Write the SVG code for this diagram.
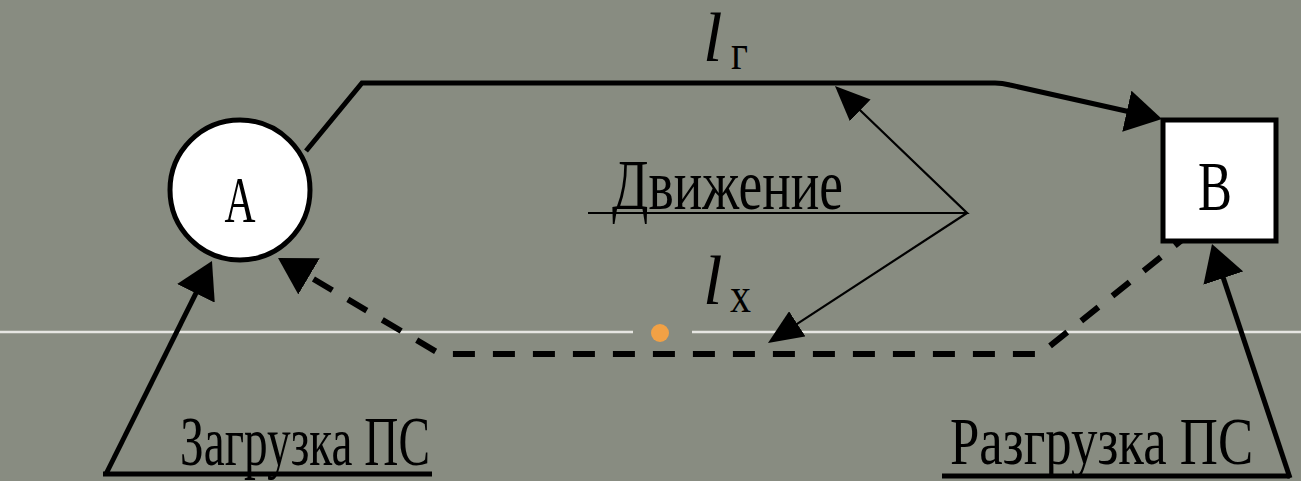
<svg xmlns="http://www.w3.org/2000/svg" width="1301" height="481" viewBox="0 0 1301 481">
<defs>
<style>
.bg{fill:#888c81}
.thick{fill:none;stroke:#000;stroke-width:5;stroke-linejoin:miter}
.dash{fill:none;stroke:#000;stroke-width:6;stroke-dasharray:22 18}
.thin{fill:none;stroke:#000;stroke-width:2.2}
.node{fill:#fff;stroke:#000;stroke-width:5}
.t{font-family:"Liberation Serif","Times New Roman",serif;fill:#000}
.it{font-family:"Liberation Serif","Times New Roman",serif;font-style:italic;fill:#000}
.sep{stroke:#e6e6e2;stroke-width:2.5}
</style>
<marker id="big" markerUnits="userSpaceOnUse" viewBox="0 0 36 42" markerWidth="36" markerHeight="42" refX="30" refY="21" orient="auto">
<path d="M0,0 L36,21 L0,42 z" fill="#000"/>
</marker>
<marker id="small" markerUnits="userSpaceOnUse" viewBox="0 0 35 30" markerWidth="35" markerHeight="30" refX="29" refY="15" orient="auto">
<path d="M0,0 L35,15 L0,30 z" fill="#000"/>
</marker>
</defs>
<rect class="bg" x="0" y="0" width="1301" height="481"/>
<g id="separator">
<line class="sep" x1="0" y1="332" x2="633" y2="332"/>
<line class="sep" x1="692" y1="332" x2="1301" y2="332"/>
<circle cx="660" cy="333" r="9" fill="#f2a145"/>
</g>
<g id="connectors">
<path class="thick" d="M306,151 L362,83 L995,83 Q1002,83 1010,85 L1156.1,117.7" marker-end="url(#big)"/>
<path class="dash" d="M1192,232 L1040,354 L440,354 L283.2,261.1" marker-end="url(#big)"/>
<path class="thick" d="M106,474 L209.3,266.4" marker-end="url(#big)"/>
<path class="thick" d="M1290,478 L1213.9,249.7" marker-end="url(#big)"/>
<path class="thin" d="M588,213 L967,213 L839.3,90.2" marker-end="url(#small)"/>
<path class="thin" d="M967,213 L773,339.7" marker-end="url(#small)"/>
<line class="thick" x1="103" y1="474" x2="432" y2="474"/>
<line class="thick" x1="942" y1="476" x2="1290" y2="476"/>
</g>
<g id="nodeA">
<circle class="node" cx="240" cy="190" r="70"/>
<text class="t" x="240" y="222" font-size="66" text-anchor="middle" textLength="31" lengthAdjust="spacingAndGlyphs">A</text>
</g>
<g id="nodeB">
<rect class="node" x="1163" y="120" width="113" height="121"/>
<text class="t" x="1198" y="210" font-size="70" textLength="34" lengthAdjust="spacingAndGlyphs">B</text>
</g>
<g id="labels">
<text class="t" x="612" y="209" font-size="71" textLength="231" lengthAdjust="spacingAndGlyphs">Движение</text>
<text class="it" x="703" y="61" font-size="70">l</text>
<text class="t" x="731" y="69" font-size="50" textLength="17" lengthAdjust="spacingAndGlyphs">г</text>
<text class="it" x="703" y="304" font-size="70">l</text>
<text class="t" x="730" y="312" font-size="50" textLength="21" lengthAdjust="spacingAndGlyphs">х</text>
<text class="t" x="180" y="465" font-size="69" textLength="250" lengthAdjust="spacingAndGlyphs">Загрузка ПС</text>
<text class="t" transform="translate(950,464) scale(0.8,1)" x="0" y="0" font-size="68" textLength="379" lengthAdjust="spacingAndGlyphs">Разгрузка ПС</text>
</g>
</svg>
